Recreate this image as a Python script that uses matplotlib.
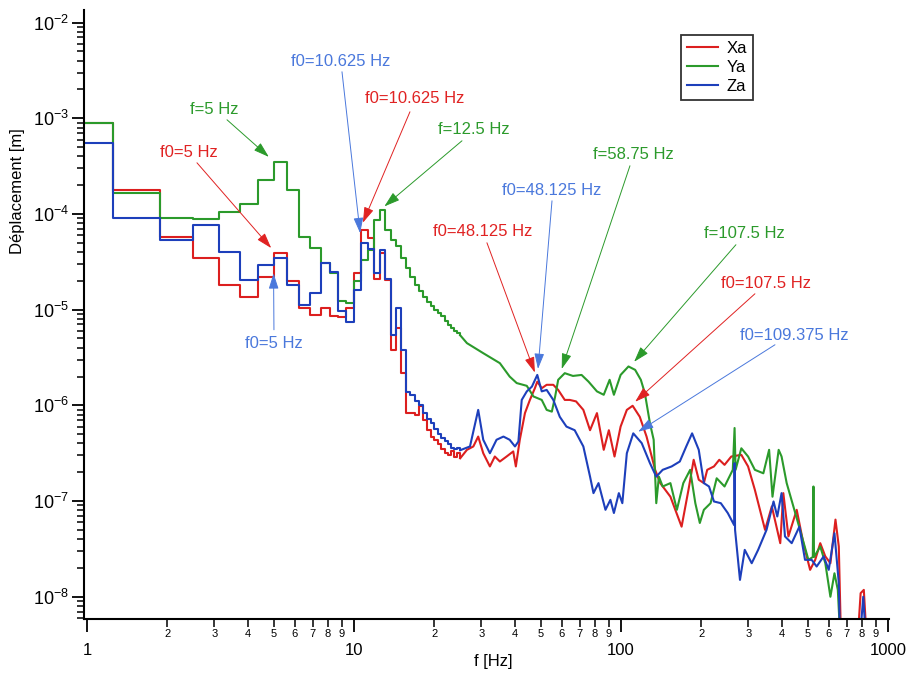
import numpy as np
import matplotlib.pyplot as plt
from matplotlib.ticker import FixedLocator, FuncFormatter, NullFormatter, LogFormatterSciNotation

plt.rcParams['font.family'] = ['Liberation Sans', 'DejaVu Sans']
plt.rcParams['mathtext.fontset'] = 'custom'
plt.rcParams['mathtext.rm'] = 'Liberation Sans'
plt.rcParams['mathtext.it'] = 'Liberation Sans:italic'

# Spectrum bins of 0.625 Hz (0.625 ... 25 Hz)
bin_freq = 0.625 * np.arange(1, 41)

xa_bins = [9.0e-4, 1.79e-4, 5.8e-5, 3.45e-5, 1.82e-5, 1.37e-5, 2.22e-5, 3.9e-5, 1.97e-5, 1.04e-5,
           8.8e-6, 1.04e-5, 8.6e-6, 8.4e-6, 1.04e-5, 2.4e-5, 6.8e-5, 5.6e-5, 2.1e-5, 3.9e-5,
           2.05e-5, 3.8e-6, 6.4e-6, 2.17e-6, 8.3e-7, 8.3e-7, 8.0e-7, 9.8e-7, 7.1e-7, 5.5e-7,
           4.7e-7, 4.3e-7, 3.9e-7, 3.5e-7, 3.2e-7, 3.0e-7, 3.3e-7, 2.9e-7, 3.2e-7, 2.8e-7]
ya_bins = [9.0e-4, 1.65e-4, 9.0e-5, 8.8e-5, 1.06e-4, 1.28e-4, 2.27e-4, 3.53e-4, 1.79e-4, 5.8e-5,
           4.4e-5, 3.06e-5, 2.4e-5, 1.22e-5, 1.17e-5, 1.97e-5, 3.3e-5, 4.2e-5, 8.7e-5, 1.1e-4,
           6.8e-5, 5.4e-5, 4.6e-5, 3.5e-5, 2.7e-5, 2.2e-5, 1.8e-5, 1.55e-5, 1.35e-5, 1.2e-5,
           1.08e-5, 1.0e-5, 9.3e-6, 8.5e-6, 7.6e-6, 6.9e-6, 6.4e-6, 6.0e-6, 5.7e-6, 5.4e-6]
za_bins = [5.5e-4, 9.0e-5, 5.35e-5, 7.7e-5, 4.05e-5, 2.05e-5, 2.94e-5, 3.45e-5, 1.82e-5, 1.12e-5,
           1.51e-5, 3.1e-5, 2.45e-5, 9.8e-6, 7.5e-6, 1.6e-5, 5.0e-5, 4.3e-5, 2.4e-5, 4.2e-5,
           2.1e-5, 5.5e-6, 1.03e-5, 3.8e-6, 1.39e-6, 1.29e-6, 1.1e-6, 1.01e-6, 8.3e-7, 7.2e-7,
           6.5e-7, 5.6e-7, 5.0e-7, 4.6e-7, 4.2e-7, 3.9e-7, 3.6e-7, 3.5e-7, 3.6e-7, 3.4e-7]

# Higher frequencies (bins too narrow to see), sampled points
xa_hf_freq = [26.5, 28.0, 29.2, 30.5, 32.3, 33.7, 35.2, 37.3, 39.5, 40.4, 41.8, 43.7, 45.6, 47.6,
              48.6, 50.5, 52.7, 55.8, 58.2, 61.6, 64.3, 67.9, 72.3, 76.6, 81.3, 86.2, 90.1, 94.6,
              99.7, 105.2, 110.6, 117.6, 124.7, 134.3, 140.3, 153.2, 168.7, 179.0, 187.2, 195.6,
              204.4, 210.4, 223.0, 233.5, 244.3, 258.9, 282.4, 299.3, 317.3, 346.5, 367.3, 395.0,
              405.6, 423.8, 455.2, 482.1, 511.0, 533.9, 557.7, 582.6, 608.7, 635.9, 654.4, 668,
              767, 790, 812, 835]
xa_hf_vals = [3.43e-7, 3.72e-7, 4.72e-7, 3.16e-7, 2.30e-7, 2.92e-7, 2.59e-7, 2.92e-7, 3.30e-7,
              2.30e-7, 4.37e-7, 8.3e-7, 1.14e-6, 1.51e-6, 1.77e-6, 1.51e-6, 1.64e-6, 1.64e-6,
              1.45e-6, 1.14e-6, 1.14e-6, 1.10e-6, 8.97e-7, 5.5e-7, 8.3e-7, 3.43e-7, 5.5e-7,
              2.92e-7, 6.0e-7, 8.97e-7, 9.9e-7, 7.6e-7, 4.72e-7, 2.12e-7, 1.54e-7, 1.11e-7,
              5.4e-8, 1.31e-7, 2.70e-7, 1.67e-7, 1.54e-7, 2.12e-7, 2.30e-7, 2.70e-7, 2.39e-7,
              2.92e-7, 3.04e-7, 2.30e-7, 1.31e-7, 5.0e-8, 8.8e-8, 3.63e-8, 1.21e-7, 4.27e-8,
              8.1e-8, 3.63e-8, 1.91e-8, 2.43e-8, 3.63e-8, 2.64e-8, 2.24e-8, 6.4e-8, 3.35e-8,
              3e-9, 3e-9, 1.09e-8, 1.18e-8, 3e-9]

ya_hf_freq = [26.5, 30.5, 35.2, 38.3, 40.7, 44.4, 47.0, 50.5, 52.7, 55.1, 56.7, 58.2, 61.6, 66.1,
              71.2, 75.6, 81.3, 86.2, 90.7, 94.1, 99.7, 106.7, 113.0, 118.7, 122.9, 128.4, 132.6,
              135.6, 138.7, 143.3, 153.2, 162.0, 171.2, 181.6, 189.9, 197.4, 204.4, 216.6, 228.3,
              244.3, 262.3, 266.4, 268.7, 282.4, 299.3, 317.3, 341.4, 358.8, 369.4, 389.6, 399.5,
              417.5, 442.2, 468.5, 503.6, 523.0, 525.9, 528.5, 557.7, 582.6, 608.7, 630.4, 648.9,
              665]
ya_hf_vals = [4.47e-6, 3.51e-6, 2.76e-6, 2.0e-6, 1.71e-6, 1.60e-6, 1.24e-6, 1.14e-6, 8.97e-7,
              8.6e-7, 1.24e-6, 1.85e-6, 2.17e-6, 2.03e-6, 2.08e-6, 1.77e-6, 1.40e-6, 1.29e-6,
              1.85e-6, 1.29e-6, 2.08e-6, 2.55e-6, 2.35e-6, 1.85e-6, 1.34e-6, 6.5e-7, 4.37e-7,
              9.5e-8, 1.80e-7, 1.42e-7, 1.54e-7, 8.1e-8, 1.54e-7, 2.12e-7, 9.5e-8, 5.9e-8, 8.1e-8,
              9.5e-8, 1.73e-7, 1.42e-7, 2.12e-7, 5.8e-7, 2.12e-7, 3.56e-7, 2.92e-7, 2.12e-7,
              1.95e-7, 3.43e-7, 1.11e-7, 3.43e-7, 2.92e-7, 1.54e-7, 8.8e-8, 5.0e-8, 2.43e-8,
              2.6e-8, 1.42e-7, 2.6e-8, 3.35e-8, 2.24e-8, 1.0e-8, 1.76e-8, 1.18e-8, 3e-9]

za_hf_freq = [27.2, 29.2, 30.5, 32.3, 34.2, 36.3, 38.3, 40.1, 41.3, 42.5, 44.4, 46.4, 48.6, 50.5,
              52.7, 55.8, 59.0, 62.5, 67.1, 72.3, 76.6, 78.9, 82.4, 87.5, 91.3, 94.1, 98.2, 101.2,
              105.2, 111.2, 119.6, 128.4, 135.6, 143.3, 154.8, 166.1, 175.6, 184.7, 195.6, 204.4,
              213.7, 223.0, 236.6, 251.2, 265.5, 266.4, 267.5, 279.1, 290.8, 308.8, 326.4, 350.9,
              372.8, 385.0, 399.5, 411.4, 436.0, 465.8, 489.0, 518.0, 540.6, 574.3, 600.0, 630.4,
              654.4, 662, 781, 808, 830]
za_hf_vals = [3.72e-7, 8.97e-7, 4.37e-7, 3.16e-7, 4.37e-7, 4.72e-7, 4.37e-7, 3.72e-7, 4.19e-7,
              1.14e-6, 1.40e-6, 1.57e-6, 2.08e-6, 1.40e-6, 1.45e-6, 1.14e-6, 7.6e-7, 6.0e-7,
              5.5e-7, 3.72e-7, 1.80e-7, 1.21e-7, 1.54e-7, 8.1e-8, 1.03e-7, 7.5e-8, 1.21e-7,
              9.5e-8, 3.16e-7, 5.1e-7, 4.03e-7, 2.49e-7, 1.80e-7, 2.12e-7, 2.30e-7, 2.59e-7,
              3.72e-7, 5.1e-7, 3.43e-7, 1.54e-7, 1.42e-7, 9.9e-8, 9.5e-8, 7.5e-8, 5.6e-8, 2.49e-7,
              5.0e-8, 1.5e-8, 3.09e-8, 2.24e-8, 3.09e-8, 5.0e-8, 9.9e-8, 6.9e-8, 1.21e-7, 4.27e-8,
              3.63e-8, 5.4e-8, 2.43e-8, 2.43e-8, 2.07e-8, 2.64e-8, 1.91e-8, 4.61e-8, 1.39e-8, 3e-9,
              3e-9, 1.0e-8, 3e-9]

series = [
    ('Xa', '#dc1f1f', xa_bins, xa_hf_freq, xa_hf_vals),
    ('Ya', '#2b9a2b', ya_bins, ya_hf_freq, ya_hf_vals),
    ('Za', '#1d3fbb', za_bins, za_hf_freq, za_hf_vals),
]

# Peak annotations: text, colour, arrow tip (data), text centre and arrow tail (axes fraction)
ann_text = ['f0=10.625 Hz', 'f0=10.625 Hz', 'f=12.5 Hz', 'f=5 Hz', 'f0=5 Hz', 'f0=5 Hz',
            'f0=48.125 Hz', 'f0=48.125 Hz', 'f=58.75 Hz', 'f=107.5 Hz', 'f0=107.5 Hz',
            'f0=109.375 Hz']
ann_color = ['#4a78dc', '#e02222', '#2b9a2b', '#2b9a2b', '#e02222', '#4a78dc',
             '#e02222', '#4a78dc', '#2b9a2b', '#2b9a2b', '#e02222', '#4a78dc']
ann_tip = [(10.55, 6.3e-5), (10.8, 8.1e-5), (13.0, 1.2e-4), (4.8, 3.95e-4), (4.9, 4.4e-5),
           (5.0, 2.4e-5), (47.6, 2.2e-6), (48.9, 2.4e-6), (60.0, 2.4e-6), (112, 2.85e-6),
           (113, 1.09e-6), (116, 5.3e-7)]
ann_textpos = [(0.3192, 0.9148), (0.4110, 0.8547), (0.4843, 0.8031), (0.1623, 0.8359),
               (0.1304, 0.7653), (0.2359, 0.4518), (0.4955, 0.6365), (0.5812, 0.7030),
               (0.6823, 0.7620), (0.8196, 0.6324), (0.8469, 0.5503), (0.8817, 0.4650)]
ann_tail = [(0.3204, 0.8983), (0.4048, 0.8326), (0.4694, 0.7850), (0.1776, 0.8195),
            (0.1403, 0.7489), (0.2359, 0.4748), (0.5004, 0.6176), (0.5812, 0.6865),
            (0.6780, 0.7440), (0.8096, 0.6144), (0.8332, 0.5339), (0.8581, 0.4502)]

fig = plt.figure(figsize=(9.06, 6.73), dpi=100)
ax = fig.add_axes([0.0927, 0.0802, 0.8888, 0.9052])

handles = []
for name, color, bins, hf_f, hf_v in series:
    h, = ax.step(bin_freq, bins, where='post', color=color, lw=1.5, label=name)
    ax.plot([bin_freq[-1]] + hf_f, [bins[-1]] + hf_v, color=color, lw=1.5)
    handles.append(h)

ax.set_xscale('log')
ax.set_yscale('log')
ax.set_xlim(0.975, 1011)
ax.set_ylim(5.85e-9, 1.36e-2)

for s in ['top', 'right']:
    ax.spines[s].set_visible(False)
for s in ['left', 'bottom']:
    ax.spines[s].set_linewidth(1.5)


def minor_label(x, pos):
    d = x / 10 ** np.floor(np.log10(x) + 1e-9)
    return str(int(round(d)))


# ticks only inside the visible range
x_minor = [d * 10 ** k for k in range(3) for d in range(2, 10)]
y_major = [10.0 ** k for k in range(-8, -1)]
y_minor = [d * 10.0 ** k for k in range(-9, -1) for d in range(2, 10)
           if 5.85e-9 < d * 10.0 ** k < 1.36e-2]

ax.xaxis.set_major_locator(FixedLocator([1, 10, 100, 1000]))
ax.xaxis.set_minor_locator(FixedLocator(x_minor))
ax.xaxis.set_major_formatter(FuncFormatter(lambda x, p: f'{x:g}'))
ax.xaxis.set_minor_formatter(FuncFormatter(minor_label))
ax.yaxis.set_major_locator(FixedLocator(y_major))
ax.yaxis.set_minor_locator(FixedLocator(y_minor))
ax.yaxis.set_major_formatter(LogFormatterSciNotation())
ax.yaxis.set_minor_formatter(NullFormatter())

ax.tick_params(axis='x', which='major', length=9, width=1.3, labelsize=12, pad=8)
ax.tick_params(axis='x', which='minor', length=6, width=1.1, labelsize=8, pad=1)
ax.tick_params(axis='y', which='major', length=9, width=1.3, labelsize=13, pad=2)
ax.tick_params(axis='y', which='minor', length=5, width=1.1)

ax.set_ylabel('Déplacement [m]', fontsize=12, va='center')
ax.yaxis.set_label_coords(-0.082, 0.703)
ax.set_xlabel('f [Hz]', fontsize=12, va='center')
ax.xaxis.set_label_coords(0.508, -0.070)

for txt, col, tip, tpos, tail in zip(ann_text, ann_color, ann_tip, ann_textpos, ann_tail):
    ax.text(tpos[0], tpos[1], txt, color=col, fontsize=12, ha='center', va='center',
            transform=ax.transAxes)
    ax.annotate('', xy=tip, xycoords='data', xytext=tail, textcoords='axes fraction',
                arrowprops=dict(arrowstyle='-|>,head_length=0.95,head_width=0.3',
                                mutation_scale=10, color=col, lw=0.7,
                                shrinkA=0, shrinkB=0))

leg = ax.legend(handles=handles, loc='upper right', bbox_to_anchor=(0.8307, 0.959),
                fontsize=12, frameon=True, fancybox=False, edgecolor='black',
                handlelength=1.9, handletextpad=0.5, labelspacing=0.25,
                borderpad=0.35, borderaxespad=0)
leg.get_frame().set_linewidth(1.3)

fig.savefig('out.png', dpi=100)
